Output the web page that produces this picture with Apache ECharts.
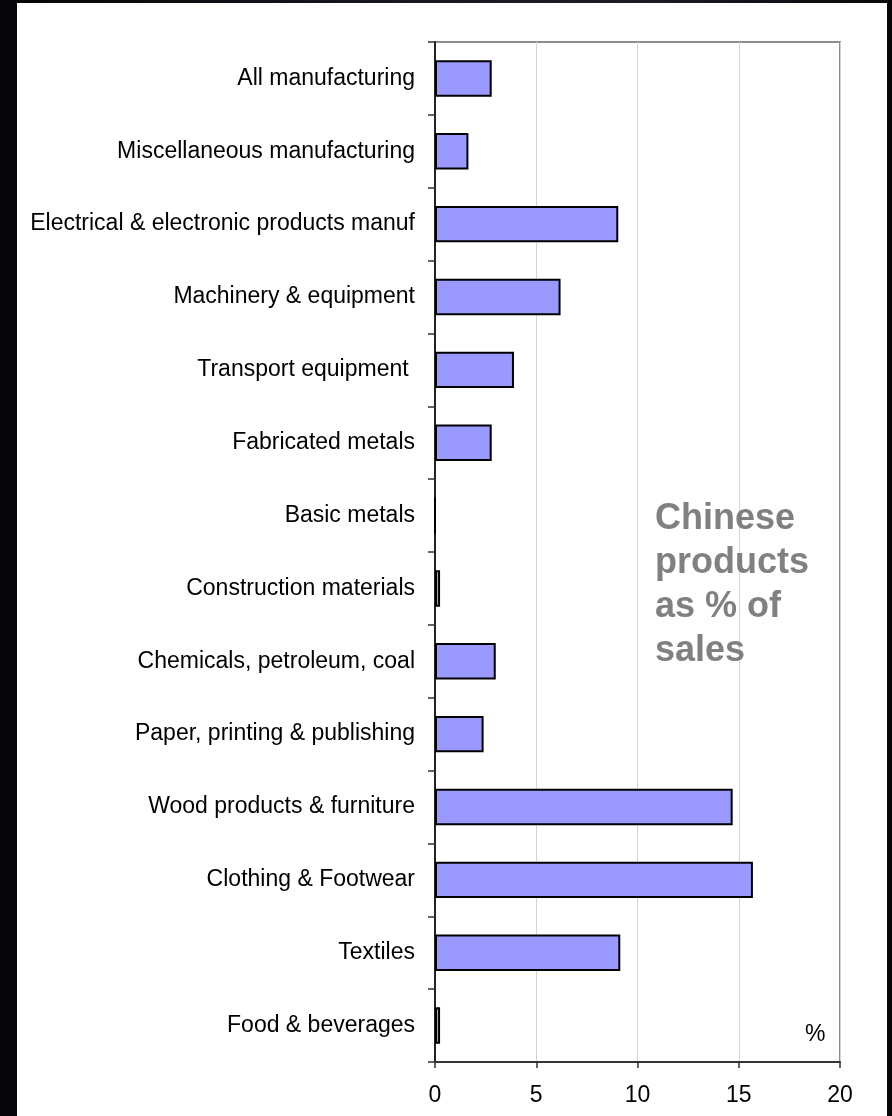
<!DOCTYPE html>
<html>
<head>
<meta charset="utf-8">
<script src="https://cdn.jsdelivr.net/npm/echarts@6/dist/echarts.min.js"></script>
<style>
  html, body { margin: 0; padding: 0; }
  body {
    width: 892px; height: 1116px; overflow: hidden;
    background: linear-gradient(90deg, #050507 0%, #15161d 40%, #1c1d26 70%, #08080b 100%);
  }
  #chart { width: 892px; height: 1116px; }
</style>
</head>
<body>
<div id="chart"></div>
<script>
// Industry sectors, listed top to bottom
const sectors = [
  'All manufacturing',
  'Miscellaneous manufacturing',
  'Electrical & electronic products manuf',
  'Machinery & equipment',
  'Transport equipment ',
  'Fabricated metals',
  'Basic metals',
  'Construction materials',
  'Chemicals, petroleum, coal',
  'Paper, printing & publishing',
  'Wood products & furniture',
  'Clothing & Footwear',
  'Textiles',
  'Food & beverages'
];

// Chinese products as % of sales, per sector
const sharePct = [2.8, 1.65, 9.05, 6.2, 3.9, 2.8, 0, 0.25, 3.0, 2.4, 14.7, 15.7, 9.15, 0.25];

// Percent axis ticks
const pctTicks = [0, 5, 10, 15, 20];

const chart = echarts.init(document.getElementById('chart'), null, { renderer: 'canvas' });

const FONT = 'Liberation Sans, Arial, sans-serif';

chart.setOption({
  backgroundColor: 'transparent',
  animation: false,
  grid: { left: 435, right: 52, top: 42, bottom: 54, containLabel: false,
          show: true, borderColor: '#8c8c8c', borderWidth: 2, backgroundColor: 'transparent' },
  graphic: [
    { type: 'rect', z: -10, silent: true,
      shape: { x: 17, y: 3, width: 870, height: 1113 },
      style: { fill: '#ffffff' } },
    { type: 'text', z: 10, left: 655, top: 497,
      style: { text: 'Chinese\nproducts\nas % of\nsales', fill: '#808080',
               font: 'bold 36px ' + FONT, lineHeight: 44 } },
    { type: 'text', z: 10, left: 805, top: 1023,
      style: { text: '%', fill: '#000000', font: '23px ' + FONT } }
  ],
  xAxis: {
    type: 'value',
    min: pctTicks[0],
    max: pctTicks[pctTicks.length - 1],
    interval: pctTicks[1] - pctTicks[0],
    axisLine: { show: true, lineStyle: { color: '#333333', width: 2 } },
    axisTick: { show: true, length: 6, lineStyle: { color: '#333333', width: 1.5 } },
    axisLabel: { color: '#000000', fontSize: 23, fontFamily: FONT, margin: 22 },
    splitLine: { show: true, lineStyle: { color: '#d4d4d4', width: 1 } }
  },
  yAxis: {
    type: 'category',
    inverse: true,
    data: sectors,
    axisLine: { show: true, lineStyle: { color: '#222222', width: 2 } },
    axisTick: { show: true, length: 7, lineStyle: { color: '#333333', width: 1.5 } },
    axisLabel: { color: '#000000', fontSize: 23, fontFamily: FONT, margin: 20 },
    splitLine: { show: false }
  },
  series: [{
    type: 'bar',
    data: sharePct,
    barWidth: '50%',
    itemStyle: { color: '#9999ff', borderColor: '#000000', borderWidth: 2 }
  }]
});
</script>
</body>
</html>
